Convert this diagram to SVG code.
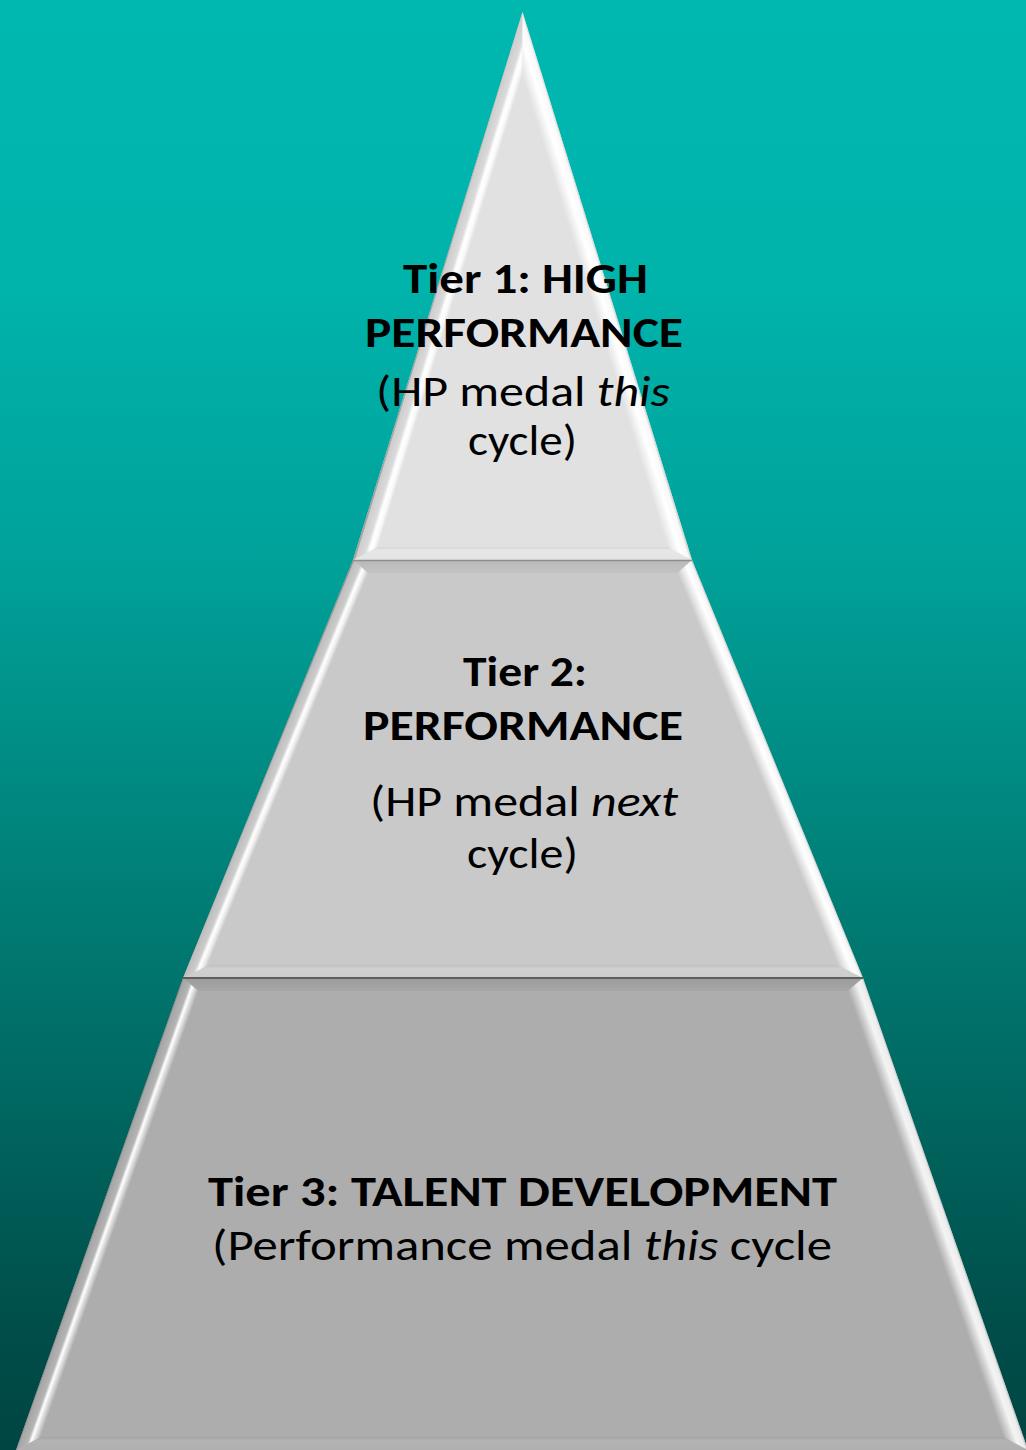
<svg xmlns="http://www.w3.org/2000/svg" width="1026" height="1450" viewBox="0 0 1026 1450">
<style>
.t{font-family:Carlito,Lato,"Open Sans",sans-serif;font-size:43px;fill:#000}
.b{font-weight:bold}
.i{font-style:italic}
</style>
<defs>
<linearGradient id="bg" x1="0" y1="0" x2="0" y2="1">
<stop offset="0" stop-color="#00B8B0"/><stop offset="0.2" stop-color="#00B3AB"/><stop offset="0.39" stop-color="#00A199"/><stop offset="0.66" stop-color="#00776F"/><stop offset="0.92" stop-color="#004D49"/><stop offset="1" stop-color="#004542"/>
</linearGradient>
<linearGradient id="t1l" gradientUnits="userSpaceOnUse" x1="437.7" y1="287" x2="456" y2="292.6">
<stop offset="0" stop-color="#A0A0A0"/><stop offset="0.06" stop-color="#CECECE"/><stop offset="0.45" stop-color="#DADADA"/><stop offset="0.62" stop-color="#FFFFFF"/><stop offset="0.8" stop-color="#FAFAFA"/><stop offset="1" stop-color="#E1E1E1"/>
</linearGradient>
<linearGradient id="t1r" gradientUnits="userSpaceOnUse" x1="607.3" y1="287" x2="589.1" y2="292.6">
<stop offset="0" stop-color="#D8D8D8"/><stop offset="0.1" stop-color="#F8F8F8"/><stop offset="0.45" stop-color="#FFFFFF"/><stop offset="0.7" stop-color="#F2F2F2"/><stop offset="1" stop-color="#E1E1E1"/>
</linearGradient>
<linearGradient id="t1b" gradientUnits="userSpaceOnUse" x1="0" y1="547" x2="0" y2="560">
<stop offset="0" stop-color="#D6D6D6"/><stop offset="0.25" stop-color="#E7E7E7"/><stop offset="1" stop-color="#E3E3E3"/>
</linearGradient>
<linearGradient id="t2l" gradientUnits="userSpaceOnUse" x1="268" y1="769" x2="285.1" y2="776">
<stop offset="0" stop-color="#8C8C8C"/><stop offset="0.06" stop-color="#BEBEBE"/><stop offset="0.45" stop-color="#CCCCCC"/><stop offset="0.62" stop-color="#FFFFFF"/><stop offset="0.78" stop-color="#F0F0F0"/><stop offset="1" stop-color="#C9C9C9"/>
</linearGradient>
<linearGradient id="t2r" gradientUnits="userSpaceOnUse" x1="777.5" y1="769" x2="760.4" y2="776">
<stop offset="0" stop-color="#CFCFCF"/><stop offset="0.1" stop-color="#F5F5F5"/><stop offset="0.4" stop-color="#FFFFFF"/><stop offset="0.7" stop-color="#E6E6E6"/><stop offset="1" stop-color="#C9C9C9"/>
</linearGradient>
<linearGradient id="t2t" gradientUnits="userSpaceOnUse" x1="0" y1="560" x2="0" y2="573">
<stop offset="0" stop-color="#B9B9B9"/><stop offset="1" stop-color="#C3C3C3"/>
</linearGradient>
<linearGradient id="t2b" gradientUnits="userSpaceOnUse" x1="0" y1="965" x2="0" y2="978">
<stop offset="0" stop-color="#BFBFBF"/><stop offset="0.25" stop-color="#D0D0D0"/><stop offset="1" stop-color="#CCCCCC"/>
</linearGradient>
<linearGradient id="t3l" gradientUnits="userSpaceOnUse" x1="99.5" y1="1214" x2="117.3" y2="1220.3">
<stop offset="0" stop-color="#7E7E7E"/><stop offset="0.06" stop-color="#A6A6A6"/><stop offset="0.45" stop-color="#B4B4B4"/><stop offset="0.6" stop-color="#FFFFFF"/><stop offset="0.75" stop-color="#E0E0E0"/><stop offset="1" stop-color="#ADADAD"/>
</linearGradient>
<linearGradient id="t3r" gradientUnits="userSpaceOnUse" x1="945.5" y1="1214" x2="927.7" y2="1220.2">
<stop offset="0" stop-color="#C4C4C4"/><stop offset="0.1" stop-color="#ECECEC"/><stop offset="0.4" stop-color="#F4F4F4"/><stop offset="0.7" stop-color="#CFCFCF"/><stop offset="1" stop-color="#ADADAD"/>
</linearGradient>
<linearGradient id="t3t" gradientUnits="userSpaceOnUse" x1="0" y1="978" x2="0" y2="991">
<stop offset="0" stop-color="#9C9C9C"/><stop offset="1" stop-color="#A6A6A6"/>
</linearGradient>
<linearGradient id="t3b" gradientUnits="userSpaceOnUse" x1="0" y1="1437" x2="0" y2="1450">
<stop offset="0" stop-color="#A3A3A3"/><stop offset="0.25" stop-color="#B3B3B3"/><stop offset="1" stop-color="#B0B0B0"/>
</linearGradient>
</defs>
<rect x="0" y="0" width="1026" height="1450" fill="url(#bg)"/>

<g id="tier3">
<polygon points="183,978 863,978 1028,1450 16,1450" fill="#ADADAD"/>
<polygon points="183,978 863,978 847.6,991 198.4,991" fill="url(#t3t)"/>
<polygon points="16,1450 1028,1450 1003.4,1437 40.6,1437" fill="url(#t3b)"/>
<polygon points="16,1450 183,978 198.4,991 40.6,1437" fill="url(#t3l)"/>
<polygon points="863,978 1028,1450 1003.4,1437 847.6,991" fill="url(#t3r)"/>
<text class="t" y="1206"><tspan class="b" x="208" textLength="629" lengthAdjust="spacingAndGlyphs">Tier 3: TALENT DEVELOPMENT</tspan></text>
<text class="t" x="212" y="1260" textLength="620" lengthAdjust="spacingAndGlyphs">(Performance medal <tspan class="i">this</tspan> cycle</text>
</g>

<g id="tier2">
<polygon points="353,560 692,560 863,978 183,978" fill="#C9C9C9"/>
<polygon points="353,560 692,560 677.5,573 368,573" fill="url(#t2t)"/>
<polygon points="183,978 863,978 837.2,965 208.8,965" fill="url(#t2b)"/>
<polygon points="183,978 353,560 368,573 208.8,965" fill="url(#t2l)"/>
<polygon points="692,560 863,978 837.2,965 677.5,573" fill="url(#t2r)"/>
<line x1="183" y1="978" x2="863" y2="978" stroke="#5E5E5E" stroke-width="2"/>
<text class="t b" x="463" y="686" textLength="124" lengthAdjust="spacingAndGlyphs">Tier 2:</text>
<text class="t b" x="363" y="740" textLength="320" lengthAdjust="spacingAndGlyphs">PERFORMANCE</text>
<text class="t" x="370" y="816" textLength="308" lengthAdjust="spacingAndGlyphs">(HP medal <tspan class="i">next</tspan></text>
<text class="t" x="467" y="868" textLength="111" lengthAdjust="spacingAndGlyphs">cycle)</text>
</g>

<g id="tier1">
<polygon points="522.5,12 692,560 353,560" fill="#E1E1E1"/>
<polygon points="353,560 692,560 667.5,547 377.5,547" fill="url(#t1b)"/>
<polygon points="353,560 522.5,12 522.5,77 377.5,547" fill="url(#t1l)"/>
<polygon points="522.5,12 692,560 667.5,547 522.5,77" fill="url(#t1r)"/>
<line x1="353" y1="560.5" x2="692" y2="560.5" stroke="#8E8E8E" stroke-width="1.5"/>
<text class="t b" x="403" y="293" textLength="245" lengthAdjust="spacingAndGlyphs">Tier 1: HIGH</text>
<text class="t b" x="365" y="347" textLength="318" lengthAdjust="spacingAndGlyphs">PERFORMANCE</text>
<text class="t" x="376" y="406" textLength="294" lengthAdjust="spacingAndGlyphs">(HP medal <tspan class="i">this</tspan></text>
<text class="t" x="468" y="455" textLength="109" lengthAdjust="spacingAndGlyphs">cycle)</text>
</g>
<g id="connectors"/>
</svg>
